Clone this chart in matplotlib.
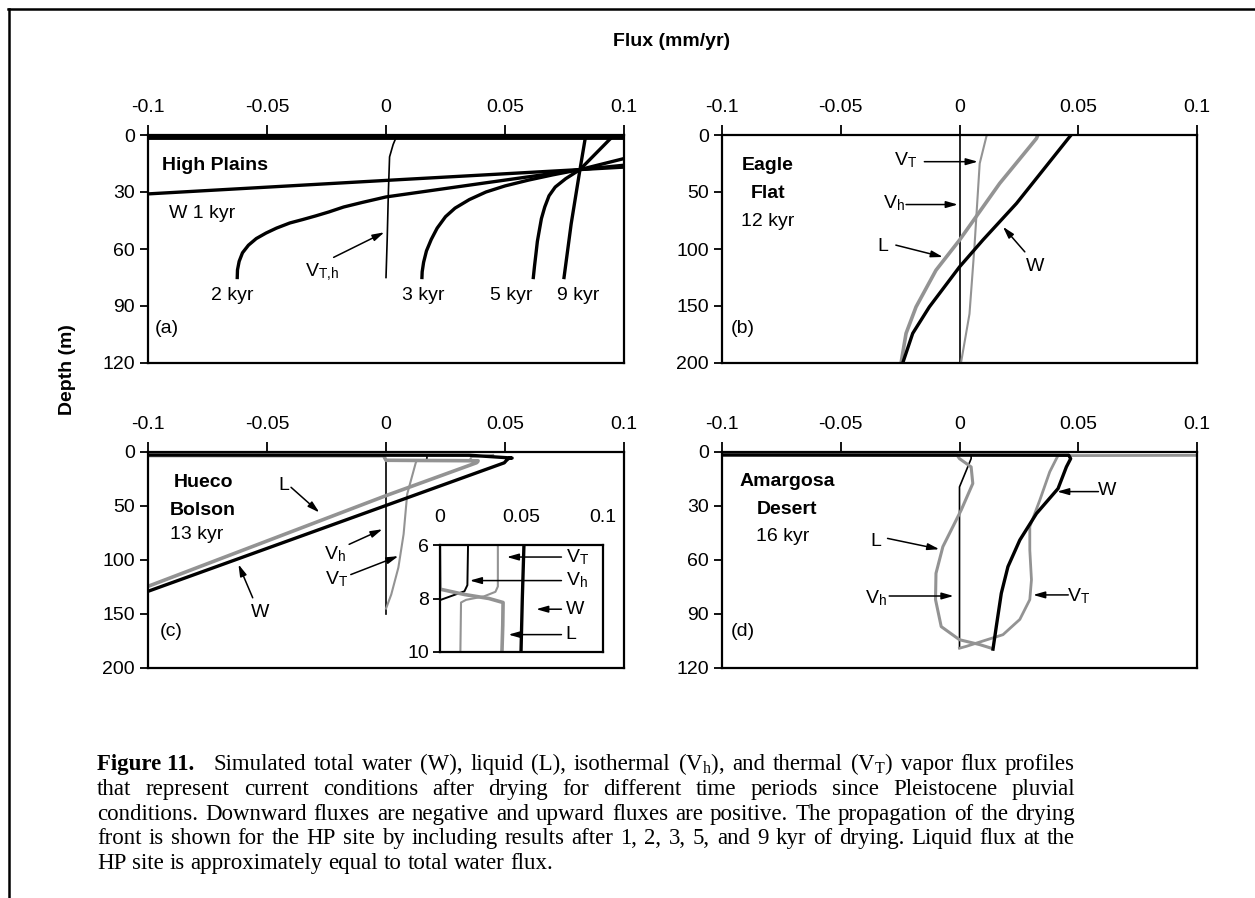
import numpy as np
import matplotlib
matplotlib.use('Agg')
from matplotlib import pyplot as plt
from matplotlib.lines import Line2D

plt.rcParams['font.family'] = 'Liberation Sans'
plt.rcParams['mathtext.fontset'] = 'custom'
plt.rcParams['mathtext.rm'] = 'Liberation Serif'
plt.rcParams['mathtext.sf'] = 'Liberation Sans'
plt.rcParams['mathtext.it'] = 'Liberation Serif:italic'
plt.rcParams['mathtext.bf'] = 'Liberation Serif:bold'

W, H = 1255, 898
GRAY = '#939393'

flux_ticks = [-0.1, -0.05, 0, 0.05, 0.1]
flux_ticklabels = ['-0.1', '-0.05', '0', '0.05', '0.1']

# ---- (a) High Plains, total water flux after n kyr of drying
hp_surface_flux = [-0.1, 0.1]
hp_surface_depth = [1.2, 1.2]
hp_1kyr_flux = [0.1, 0.0815, 0.0, -0.1]
hp_1kyr_depth = [16.9, 18.2, 23.9, 31.0]
hp_2kyr_flux = [0.1, 0.0815, 0.04, 0.0, -0.01, -0.0178, -0.024, -0.0296, -0.035, -0.0404,
                -0.046, -0.0504, -0.0545, -0.0578, -0.0603, -0.0617, -0.0624, -0.0625]
hp_2kyr_depth = [15.9, 18.2, 25.5, 32.6, 35.5, 37.9, 40.5, 42.6, 44.5, 46.3,
                 49.0, 51.6, 54.5, 58.0, 62.0, 66.5, 71, 75]
hp_3kyr_flux = [0.1, 0.0815, 0.07, 0.06, 0.05, 0.042, 0.035, 0.029, 0.025, 0.0215,
                0.019, 0.017, 0.0158, 0.0152, 0.0151]
hp_3kyr_depth = [12.4, 18.2, 21, 23.7, 26.8, 30, 34, 38.5, 43, 49, 55, 61, 67, 72, 75]
hp_5kyr_flux = [0.096, 0.094, 0.0815, 0.0755, 0.0711, 0.0685, 0.0667, 0.0653, 0.0644,
                0.0636, 0.063, 0.0624, 0.0619]
hp_5kyr_depth = [0, 2.3, 18.2, 23, 27.4, 32, 37.9, 44, 50.3, 56, 62.6, 69, 75]
hp_9kyr_flux = [0.0837, 0.0815, 0.0778, 0.0748]
hp_9kyr_depth = [1.8, 18.2, 46.8, 75]
hp_vap_flux = [0.004, 0.003, 0.0015, 0.001, 0.0005, 0.0]
hp_vap_depth = [2, 5, 11.5, 30, 55, 75]

# ---- (b) Eagle Flat, 12 kyr
ef_w_flux = [0.047, 0.0462, 0.024, 0.0099, 0.0, -0.0127, -0.0197, -0.0239]
ef_w_depth = [0, 2, 60, 92, 115.7, 150.8, 174, 200]
ef_l_flux = [0.033, 0.0324, 0.0296, 0.0169, 0.0, -0.0099, -0.0183, -0.0225, -0.0246]
ef_l_depth = [0, 3, 10.2, 42.5, 92.2, 118.6, 150.8, 174, 200]
ef_vt_flux = [0.0115, 0.0113, 0.0085, 0.0063, 0.0042, 0.0007]
ef_vt_depth = [0, 1.5, 25, 98, 157, 199]
ef_vh_flux = [0.0, 0.0]
ef_vh_depth = [0, 200]

# ---- (c) Hueco Bolson, 13 kyr
hb_w_flux = [-0.3, 0.035, 0.053, 0.0515, 0.0505, 0.0497, -0.1]
hb_w_depth = [2.5, 3.0, 5.6, 6, 8, 10, 129]
hb_l_flux = [-0.3, -0.001, 0.0, 0.015, 0.03, 0.0387, 0.0385, 0.038, 0.0, -0.1]
hb_l_depth = [2.8, 3.5, 7.65, 7.85, 8.0, 8.15, 9, 10, 40.4, 124.4]
hb_vh_flux = [0.0172, 0.0172, 0.0168, 0.015, 0.0, 0.0]
hb_vh_depth = [4.5, 6, 7.5, 7.73, 8.06, 150]
hb_vt_flux = [0.045, 0.036, 0.0355, 0.0355, 0.034, 0.027, 0.016, 0.0129, 0.0125, 0.0089,
              0.0074, 0.0052, 0.0022, 0.0]
hb_vt_depth = [2.8, 4.5, 6, 7.55, 7.75, 7.92, 8.05, 8.15, 10, 39, 76, 107, 132, 145]

# ---- (d) Amargosa Desert, 16 kyr
ad_w_flux = [-0.3, 0.046, 0.0468, 0.045, 0.0415, 0.0324, 0.0254, 0.0204, 0.0176, 0.0155, 0.0141]
ad_w_depth = [1.4, 1.8, 3.7, 8.3, 20.3, 34.2, 48.9, 63.7, 78.5, 96.9, 109.5]
ad_l_flux = [-0.3, -0.001, 0.0, 0.0049, 0.0056, 0.0007, -0.007, -0.0099, -0.0101, -0.0077,
             0.0, 0.0085, 0.0134]
ad_l_depth = [1.4, 1.8, 3.7, 8.3, 17.5, 32.3, 52.6, 67.4, 82, 97, 104.3, 107, 109]
ad_vt_flux = [0.3, 0.0415, 0.0408, 0.038, 0.0338, 0.0296, 0.0296, 0.0303, 0.0296, 0.0254,
              0.0183, 0.0099, 0.0028, 0.0]
ad_vt_depth = [1.4, 2.0, 3.7, 11, 26.8, 41.5, 54.5, 71, 82, 93, 101.5, 105, 108, 109]
ad_vh_flux = [0.0049, 0.0049, 0.0, 0.0]
ad_vh_depth = [1.8, 3.7, 19.4, 109]

caption_lines = [
    'Simulated total water (W), liquid (L), isothermal (V$_\\mathrm{h}$), and thermal (V$_\\mathrm{T}$) vapor flux profiles',
    'that represent current conditions after drying for different time periods since Pleistocene pluvial',
    'conditions. Downward fluxes are negative and upward fluxes are positive. The propagation of the drying',
    'front is shown for the HP site by including results after 1, 2, 3, 5, and 9 kyr of drying. Liquid flux at the',
    'HP site is approximately equal to total water flux.',
]


def px_box(x0, y0, x1, y1):
    return [x0 / W, 1 - y1 / H, (x1 - x0) / W, (y1 - y0) / H]


def setup(ax, ymax, yticks):
    ax.set_xlim(-0.1, 0.1)
    ax.set_ylim(ymax, 0)
    ax.xaxis.tick_top()
    ax.set_xticks(flux_ticks)
    ax.set_xticklabels(flux_ticklabels)
    ax.set_yticks(yticks)
    ax.tick_params(axis='both', direction='out', width=1.3, labelsize=14, colors='black')
    ax.tick_params(axis='x', length=7, pad=7)
    ax.tick_params(axis='y', length=5.5, pad=4)
    for s in ax.spines.values():
        s.set_linewidth(1.6)


def arrow(ax, tail, head):
    ax.annotate('', xy=head, xytext=tail,
                arrowprops=dict(arrowstyle='-|>,head_length=0.7,head_width=0.2',
                                color='black', lw=1.1, shrinkA=0, shrinkB=0))


def sub(base, s):
    return base + '$_\\mathsf{' + s + '}$'


fig = plt.figure(figsize=(W / 100, H / 100), dpi=100)

ax_a = fig.add_axes(px_box(148, 135, 624, 363))
ax_b = fig.add_axes(px_box(722, 135, 1197, 363))
ax_c = fig.add_axes(px_box(148, 452, 624, 668))
ax_d = fig.add_axes(px_box(722, 452, 1197, 668))

# (a) High Plains
setup(ax_a, 120, [0, 30, 60, 90, 120])
ax_a.plot(hp_surface_flux, hp_surface_depth, color='black', lw=3.5, solid_capstyle='butt')
for fx, dp in [(hp_1kyr_flux, hp_1kyr_depth), (hp_2kyr_flux, hp_2kyr_depth),
               (hp_3kyr_flux, hp_3kyr_depth), (hp_5kyr_flux, hp_5kyr_depth),
               (hp_9kyr_flux, hp_9kyr_depth)]:
    ax_a.plot(fx, dp, color='black', lw=2.4)
ax_a.plot(hp_vap_flux, hp_vap_depth, color='black', lw=1.2)
ax_a.text(-0.094, 15.9, 'High Plains', fontsize=14, weight='bold', va='center')
ax_a.text(-0.091, 41.5, 'W 1 kyr', fontsize=14, va='center')
for x, lab in [(-0.0644, '2 kyr'), (0.0156, '3 kyr'), (0.0526, '5 kyr'), (0.0807, '9 kyr')]:
    ax_a.text(x, 84.5, lab, fontsize=14, ha='center', va='center')
ax_a.text(-0.0267, 72.4, sub('V', 'T{,}h'), fontsize=14, ha='center', va='center')
arrow(ax_a, (-0.022, 64.4), (-0.0007, 51.2))
ax_a.text(-0.097, 102, '(a)', fontsize=14, va='center')

# (b) Eagle Flat
setup(ax_b, 200, [0, 50, 100, 150, 200])
ax_b.plot(ef_vh_flux, ef_vh_depth, color='black', lw=1.2)
ax_b.plot(ef_vt_flux, ef_vt_depth, color=GRAY, lw=1.5)
ax_b.plot(ef_l_flux, ef_l_depth, color=GRAY, lw=2.6)
ax_b.plot(ef_w_flux, ef_w_depth, color='black', lw=2.4)
ax_b.text(-0.0808, 26.4, 'Eagle', fontsize=14, weight='bold', ha='center', va='center')
ax_b.text(-0.0808, 51.2, 'Flat', fontsize=14, weight='bold', ha='center', va='center')
ax_b.text(-0.0808, 76, '12 kyr', fontsize=14, ha='center', va='center')
ax_b.text(-0.0965, 170, '(b)', fontsize=14, va='center')
ax_b.text(-0.0225, 22, sub('V', 'T'), fontsize=14, ha='center', va='center')
arrow(ax_b, (-0.0148, 23.4), (0.0077, 23.4))
ax_b.text(-0.0275, 60, sub('V', 'h'), fontsize=14, ha='center', va='center')
arrow(ax_b, (-0.0225, 61), (-0.0007, 61))
ax_b.text(-0.0324, 98, 'L', fontsize=14, ha='center', va='center')
arrow(ax_b, (-0.0268, 96.6), (-0.007, 107))
ax_b.text(0.0317, 115.7, 'W', fontsize=14, ha='center', va='center')
arrow(ax_b, (0.0275, 102.5), (0.0183, 80.5))

# (c) Hueco Bolson
setup(ax_c, 200, [0, 50, 100, 150, 200])
ax_c.plot(hb_vh_flux, hb_vh_depth, color='black', lw=1.2)
ax_c.plot(hb_vt_flux, hb_vt_depth, color=GRAY, lw=1.5)
ax_c.plot(hb_l_flux, hb_l_depth, color=GRAY, lw=2.6)
ax_c.plot(hb_w_flux, hb_w_depth, color='black', lw=2.4)
ax_c.text(-0.0768, 28, 'Hueco', fontsize=14, weight='bold', ha='center', va='center')
ax_c.text(-0.0768, 54.4, 'Bolson', fontsize=14, weight='bold', ha='center', va='center')
ax_c.text(-0.0908, 76.2, '13 kyr', fontsize=14, va='center')
ax_c.text(-0.0952, 166, '(c)', fontsize=14, va='center')
ax_c.text(-0.0428, 31, 'L', fontsize=14, ha='center', va='center')
arrow(ax_c, (-0.0399, 32.7), (-0.028, 56))
ax_c.text(-0.0531, 149, 'W', fontsize=14, ha='center', va='center')
arrow(ax_c, (-0.056, 135), (-0.062, 104))
ax_c.text(-0.0214, 95, sub('V', 'h'), fontsize=14, ha='center', va='center')
arrow(ax_c, (-0.0155, 85.5), (-0.0015, 71.5))
ax_c.text(-0.0207, 118, sub('V', 'T'), fontsize=14, ha='center', va='center')
arrow(ax_c, (-0.0148, 113.5), (0.0052, 96.4))

# inset: top 6-10 m of Hueco Bolson
ax_i = fig.add_axes(px_box(440, 545, 603, 652))
ax_i.plot(hb_vh_flux, hb_vh_depth, color='black', lw=1.4)
ax_i.plot(hb_vt_flux, hb_vt_depth, color=GRAY, lw=1.5)
ax_i.plot(hb_l_flux, hb_l_depth, color=GRAY, lw=2.6)
ax_i.plot(hb_w_flux, hb_w_depth, color='black', lw=2.4)
ax_i.set_xlim(0, 0.1)
ax_i.set_ylim(10, 6)
ax_i.xaxis.tick_top()
ax_i.set_xticks([0, 0.05, 0.1])
ax_i.set_xticklabels(['0', '0.05', '0.1'])
ax_i.set_yticks([6, 8, 10])
ax_i.tick_params(axis='both', direction='out', width=1.3, labelsize=14)
ax_i.tick_params(axis='x', length=0, pad=14)
ax_i.tick_params(axis='y', length=5, pad=3)
for s in ax_i.spines.values():
    s.set_linewidth(1.6)
for yy, lab, head in [(6.45, sub('V', 'T'), 0.041), (7.33, sub('V', 'h'), 0.0183),
                      (8.4, 'W', 0.059), (9.35, 'L', 0.042)]:
    ax_i.text(0.077, yy, lab, fontsize=14, va='center')
    arrow(ax_i, (0.0745, yy), (head, yy))

# (d) Amargosa Desert
setup(ax_d, 120, [0, 30, 60, 90, 120])
ax_d.plot(ad_vh_flux, ad_vh_depth, color='black', lw=1.2)
ax_d.plot(ad_vt_flux, ad_vt_depth, color=GRAY, lw=2.0)
ax_d.plot(ad_l_flux, ad_l_depth, color=GRAY, lw=2.2)
ax_d.plot(ad_w_flux, ad_w_depth, color='black', lw=2.4)
ax_d.text(-0.0725, 16.6, 'Amargosa', fontsize=14, weight='bold', ha='center', va='center')
ax_d.text(-0.0725, 31.9, 'Desert', fontsize=14, weight='bold', ha='center', va='center')
ax_d.text(-0.0746, 46.7, '16 kyr', fontsize=14, ha='center', va='center')
ax_d.text(-0.0965, 99.7, '(d)', fontsize=14, va='center')
ax_d.text(-0.0352, 49.8, 'L', fontsize=14, ha='center', va='center')
arrow(ax_d, (-0.0303, 48), (-0.0085, 54))
ax_d.text(-0.0352, 81.2, sub('V', 'h'), fontsize=14, ha='center', va='center')
arrow(ax_d, (-0.0296, 80), (-0.0025, 80))
ax_d.text(0.0623, 21.6, 'W', fontsize=14, ha='center', va='center')
arrow(ax_d, (0.0585, 22), (0.0411, 22))
ax_d.text(0.0500, 80.3, sub('V', 'T'), fontsize=14, ha='center', va='center')
arrow(ax_d, (0.0458, 79.4), (0.031, 79.4))

# shared axis titles
fig.text(672 / W, 1 - 42 / H, 'Flux (mm/yr)', fontsize=14, weight='bold', ha='center', va='center')
fig.text(68 / W, 1 - 370 / H, 'Depth (m)', fontsize=14, weight='bold', ha='center', va='center',
         rotation=90)

# page frame
fig.add_artist(Line2D([8 / W, 1], [1 - 9 / H, 1 - 9 / H], color='black', lw=1.8,
                      transform=fig.transFigure))
fig.add_artist(Line2D([9 / W, 9 / W], [0, 1 - 9 / H], color='black', lw=1.8,
                      transform=fig.transFigure))

# justified caption; font size chosen so the third line sets with plain spaces
renderer = fig.canvas.get_renderer()
cap_left, cap_right = 97, 1075
probe = fig.text(0, 0, caption_lines[2], fontsize=15, family='Liberation Serif')
cap_size = 15 * (cap_right - cap_left) / probe.get_window_extent(renderer).width * 0.985
probe.remove()
space_px = 0.25 * cap_size * 100 / 72


def caption_line(words, y, justify=True, lead=None):
    arts, extra = [], []
    if lead is not None:
        arts.append(fig.text(0, 1 - y / H, lead, fontsize=cap_size, family='Liberation Serif',
                             weight='bold', va='baseline'))
        extra.append(2 * space_px)
    for w in words:
        arts.append(fig.text(0, 1 - y / H, w, fontsize=cap_size, family='Liberation Serif',
                             va='baseline'))
        extra.append(0)
    widths = [a.get_window_extent(renderer).width for a in arts]
    ngap = len(arts) - 1
    if justify and ngap > 0:
        gap = (cap_right - cap_left - sum(widths) - sum(extra[:ngap])) / ngap
    else:
        gap = space_px
    x = cap_left
    for a, wd, ex in zip(arts, widths, extra):
        a.set_x(x / W)
        x += wd + gap + ex


y0 = 770
step = 24.8
for i, line in enumerate(caption_lines):
    caption_line(line.split(' '), y0 + i * step, justify=(i < len(caption_lines) - 1),
                 lead='Figure 11.' if i == 0 else None)

fig.savefig('out.png', dpi=100, facecolor='white')
